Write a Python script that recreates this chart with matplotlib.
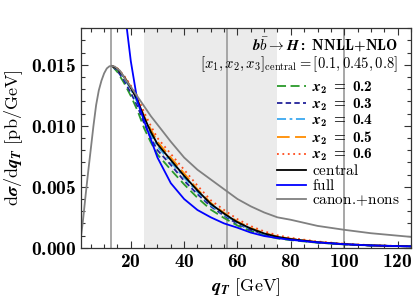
import numpy as np
import matplotlib
matplotlib.use("Agg")
import matplotlib.pyplot as plt
from matplotlib.ticker import MultipleLocator, FixedLocator, FuncFormatter

plt.rcParams["mathtext.fontset"] = "custom"
plt.rcParams["mathtext.rm"] = "cmr10"
plt.rcParams["mathtext.it"] = "cmmi10"
plt.rcParams["mathtext.bf"] = "cmb10"
plt.rcParams["mathtext.bfit"] = "STIXGeneral:italic:bold"
plt.rcParams["mathtext.fallback"] = "cm"
plt.rcParams["font.family"] = ["DejaVu Serif"]

# canon.+nons (gray)
q_canon = [1.2, 2, 3, 4, 5, 6, 7, 8, 9, 10, 11, 12, 13, 14, 16, 18, 20, 22.5,
           25, 27.5, 30, 35, 40, 45, 50, 55, 60, 65, 70, 75, 80, 90, 100, 110, 125]
s_canon = [0.0007, 0.0021, 0.0042, 0.0062, 0.0081, 0.0100, 0.0117, 0.0129, 0.0137,
           0.0143, 0.0147, 0.01488, 0.0149, 0.01485, 0.0145, 0.0138, 0.0132, 0.0124,
           0.0116, 0.0108, 0.0101, 0.0087, 0.0074, 0.0064, 0.0056, 0.0048, 0.0040,
           0.0034, 0.0029, 0.0025, 0.0023, 0.0018, 0.00148, 0.0012, 0.0009]

# full (blue)
q_full = [15, 17, 18.5, 20, 22.5, 25, 27.5, 30, 35, 40, 45, 50, 55, 60, 65, 70,
          75, 80, 90, 100, 110, 125]
s_full = [0.030, 0.022, 0.0180, 0.0153, 0.0120, 0.0104, 0.0089, 0.0074, 0.0053,
          0.0040, 0.0031, 0.0025, 0.0020, 0.00165, 0.00125, 0.00097, 0.00080,
          0.00066, 0.00045, 0.00030, 0.0002, 0.00012]

# resummed curves with x2 variations
q_var = [13, 15, 17.5, 20, 22.5, 25, 27.5, 30, 35, 40, 45, 50, 55, 60, 65, 70,
         75, 80, 90, 100, 110, 125]
s_central = [0.0149, 0.01465, 0.0140, 0.0131, 0.0121, 0.0107, 0.0095, 0.0085,
             0.0072, 0.0059, 0.0047, 0.0036, 0.0028, 0.0021, 0.00158, 0.00118,
             0.0009, 0.00072, 0.00046, 0.00030, 0.0002, 0.00012]
s_x02 = [0.0149, 0.0144, 0.0135, 0.01245, 0.01125, 0.0098, 0.00865, 0.00765,
         0.0064, 0.0052, 0.0041, 0.00313, 0.00244, 0.00183, 0.00138, 0.00103,
         0.00077, 0.00063, 0.00042, 0.00028, 0.00019, 0.00012]
s_x03 = [0.0149, 0.0145, 0.0137, 0.0127, 0.0116, 0.0102, 0.0090, 0.0080, 0.0068,
         0.0055, 0.0044, 0.0034, 0.00263, 0.00197, 0.00148, 0.00111, 0.00084,
         0.00068, 0.00044, 0.00029, 0.00019, 0.00012]
s_x04 = [0.0149, 0.01462, 0.01392, 0.0130, 0.0119, 0.0105, 0.0093, 0.0083,
         0.00705, 0.00575, 0.00458, 0.0035, 0.00272, 0.00204, 0.00154, 0.00115,
         0.00088, 0.0007, 0.00045, 0.0003, 0.0002, 0.00012]
s_x05 = [0.0149, 0.01468, 0.01405, 0.01318, 0.0122, 0.0108, 0.0097, 0.0087,
         0.0074, 0.0061, 0.0048, 0.00368, 0.00287, 0.00216, 0.00163, 0.00122,
         0.00093, 0.00075, 0.00048, 0.00031, 0.0002, 0.00012]
s_x06 = [0.0149, 0.0147, 0.0141, 0.0133, 0.0124, 0.0111, 0.0100, 0.0090, 0.0077,
         0.0064, 0.0051, 0.0039, 0.0031, 0.00235, 0.00178, 0.00135, 0.00103,
         0.00082, 0.00052, 0.00034, 0.00022, 0.00013]

mH = 125.0
x_central = [0.1, 0.45, 0.8]
x2_band = [0.2, 0.6]

y_ticks = [0.0, 0.005, 0.010, 0.015]
y_ticklabels = ["0.000", "0.005", "0.010", "0.015"]


def x2_label(v):
    return r"$\boldsymbol{x}_{\boldsymbol{2}}\;\mathbf{=}\;\mathbf{%s}$" % v


fig = plt.figure(figsize=(4.15, 3.06), dpi=100)
ax = fig.add_axes([0.195, 0.190, 0.795, 0.718])

ax.axvspan(x2_band[0] * mH, x2_band[1] * mH, color="#ebebeb", lw=0, zorder=0)
for xc in x_central:
    ax.axvline(xc * mH, color="#a0a0a0", lw=1.3, zorder=1)

ax.plot(q_var, s_x02, color="#2a9a2a", lw=1.3, ls=(0, (5, 2.5)), label=x2_label("0.2"))
ax.plot(q_var, s_x03, color="#22229a", lw=1.3, ls=(0, (3, 1.8)), label=x2_label("0.3"))
ax.plot(q_var, s_x04, color="#3aa8f0", lw=1.3, ls=(0, (5, 2, 1.5, 2)), label=x2_label("0.4"))
ax.plot(q_var, s_x05, color="#ff8c00", lw=1.3, ls=(0, (7, 3)), label=x2_label("0.5"))
ax.plot(q_var, s_x06, color="#ff4a1a", lw=1.3, ls=(0, (1, 2)), label=x2_label("0.6"))
ax.plot(q_var, s_central, color="black", lw=1.3, label=r"$\mathrm{central}$")
ax.plot(q_full, s_full, color="#0000ff", lw=1.3, label=r"$\mathrm{full}$")
ax.plot(q_canon, s_canon, color="#808080", lw=1.3, label=r"$\mathrm{canon.\!{+}nons}$")

ax.set_xlim(1.3, 125)
ax.set_ylim(0, 0.018)

ax.xaxis.set_major_locator(FixedLocator([20, 40, 60, 80, 100, 120]))
ax.xaxis.set_major_formatter(FuncFormatter(lambda v, p: r"$\mathbf{%d}$" % v))
ax.xaxis.set_minor_locator(MultipleLocator(5))
ax.yaxis.set_major_locator(FixedLocator(y_ticks))
ax.yaxis.set_major_formatter(FuncFormatter(lambda v, p: r"$\mathbf{%s}$" % y_ticklabels[p]))
ax.yaxis.set_minor_locator(MultipleLocator(0.001))
ax.tick_params(which="both", direction="in", top=True, right=True, labelsize=14, color="#333333")
ax.tick_params(which="major", length=5, width=0.8)
ax.tick_params(which="minor", length=3, width=0.8)
for s in ax.spines.values():
    s.set_color("#333333")
    s.set_linewidth(0.9)

ax.set_xlabel(r"$\boldsymbol{q}_{\boldsymbol{T}}\ [\mathrm{GeV}]$", fontsize=13)
ax.set_ylabel(r"$\mathrm{d}\boldsymbol{\sigma}/\mathrm{d}\boldsymbol{q}_{\boldsymbol{T}}\ [\mathrm{pb/GeV}]$", fontsize=13)

ax.text(0.96, 0.925, r"$\boldsymbol{b\bar{b}\rightarrow H}\mathbf{:\ NNLL{+}NLO}$",
        transform=ax.transAxes, ha="right", va="center", fontsize=10.8)
ax.text(0.96, 0.835, r"$[x_1, x_2, x_3]_{\mathrm{central}} = [0.1, 0.45, 0.8]$",
        transform=ax.transAxes, ha="right", va="center", fontsize=10.5)

ax.legend(loc="upper right", bbox_to_anchor=(1.0, 0.815), frameon=False, fontsize=11,
          handlelength=1.9, labelspacing=0.0, handletextpad=0.45, borderpad=0.2)

fig.savefig("out.png", dpi=100)
